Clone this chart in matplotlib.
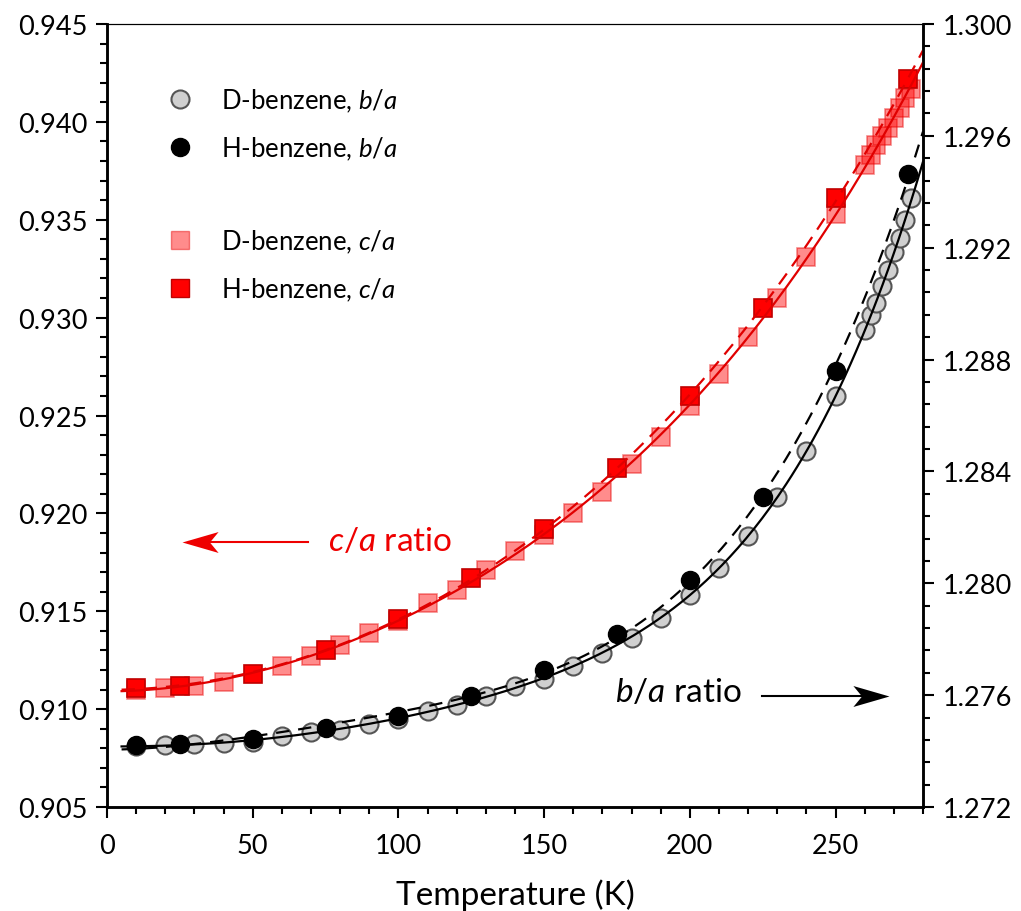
import numpy as np
import matplotlib
matplotlib.use('Agg')
import matplotlib.pyplot as plt
from matplotlib.lines import Line2D
from matplotlib.path import Path
from matplotlib.ticker import MultipleLocator, FormatStrFormatter

plt.rcParams['font.family'] = ['Lato', 'DejaVu Sans']
plt.rcParams['mathtext.fontset'] = 'custom'
plt.rcParams['mathtext.rm'] = 'Lato'
plt.rcParams['mathtext.it'] = 'Lato:italic'

# c/a ratio (left axis)
T_ca_H = [10, 25, 50, 75, 100, 125, 150, 175, 200, 225, 250, 275]
ca_H = [0.9111, 0.9112, 0.9118, 0.9130, 0.9146, 0.9167, 0.9192, 0.9223,
        0.9260, 0.9305, 0.9361, 0.9422]
T_ca_D = [10, 20, 30, 40, 60, 70, 80, 90, 100, 110, 120, 130, 140, 150, 160,
          170, 180, 190, 200, 210, 220, 230, 240, 250, 260, 262, 264, 266,
          268, 270, 272, 274, 276]
ca_D = [0.9110, 0.9111, 0.9112, 0.9114, 0.9122, 0.9127, 0.9133, 0.9139,
        0.9145, 0.9154, 0.9161, 0.9171, 0.9181, 0.9189, 0.9200, 0.9211,
        0.9225, 0.9239, 0.9255, 0.9271, 0.9290, 0.9310, 0.9331, 0.9353,
        0.9378, 0.9383, 0.9388, 0.9393, 0.9397, 0.9402, 0.9407, 0.9412,
        0.9417]

# b/a ratio (right axis)
T_ba_H = [10, 25, 50, 75, 100, 125, 150, 175, 200, 225, 250, 275]
ba_H = [1.27422, 1.27425, 1.27443, 1.27482, 1.27525, 1.27597, 1.27690,
        1.27819, 1.28012, 1.28309, 1.28759, 1.29464]
T_ba_D = [10, 20, 30, 40, 50, 60, 70, 80, 90, 100, 110, 120, 130, 140, 150,
          160, 170, 180, 190, 200, 210, 220, 230, 240, 250, 260, 262, 264,
          266, 268, 270, 272, 274, 276]
ba_D = [1.27418, 1.27422, 1.27425, 1.27429, 1.27432, 1.27454, 1.27468,
        1.27475, 1.27497, 1.27515, 1.27543, 1.27565, 1.27597, 1.27633,
        1.27658, 1.27704, 1.27751, 1.27804, 1.27876, 1.27958, 1.28055,
        1.28169, 1.28309, 1.28473, 1.28670, 1.28906, 1.28959, 1.29002,
        1.29063, 1.29120, 1.29185, 1.29235, 1.29299, 1.29378]

legend_labels = ['D-benzene, $b/a$', 'H-benzene, $b/a$',
                 'D-benzene, $c/a$', 'H-benzene, $c/a$']

fig = plt.figure(figsize=(10.21, 9.12), dpi=100)
ax = fig.add_axes([0.1048, 0.114, 0.7992, 0.8586])
ax2 = ax.twinx()

Tfit = np.linspace(5, 280, 300)


def fit(T, y, powers):
    # least squares fit with no linear term, so the curve is flat at low T
    t = np.asarray(T) / 280.0
    A = np.column_stack([t ** p for p in powers])
    coef, *_ = np.linalg.lstsq(A, np.asarray(y), rcond=None)
    tf = Tfit / 280.0
    return np.column_stack([tf ** p for p in powers]) @ coef


red = '#e00000'
# c/a on left axis
ax.plot(T_ca_D, ca_D, 's', ms=13, mfc=(1, 0, 0, 0.45), mec=(0.9, 0, 0, 0.45),
        mew=1.2, zorder=2)
ax.plot(T_ca_H, ca_H, 's', ms=13, mfc='#ff0000', mec='#c00000', mew=1.2, zorder=3)
ax.plot(Tfit, fit(T_ca_D, ca_D, [0, 2, 3, 4]), '-', color=red, lw=1.6, zorder=4)
ax.plot(Tfit, fit(T_ca_H, ca_H, [0, 2, 3, 4]), '--', color=red, lw=1.6,
        dashes=(6, 4), zorder=4)

# b/a on right axis
ax2.plot(T_ba_D, ba_D, 'o', ms=13, mfc='#d0d0d0', mec='#555555', mew=1.5, zorder=2)
ax2.plot(T_ba_H, ba_H, 'o', ms=13, mfc='black', mec='black', zorder=3)
ax2.plot(Tfit, fit(T_ba_D, ba_D, [0, 2, 3, 4, 5]), '-', color='black', lw=1.6, zorder=4)
ax2.plot(Tfit, fit(T_ba_H, ba_H, [0, 2, 3, 4]), '--', color='black', lw=1.6,
         dashes=(6, 4), zorder=4)

ax.set_xlim(0, 280)
ax.set_ylim(0.905, 0.945)
ax2.set_ylim(1.272, 1.300)

ax.xaxis.set_major_locator(MultipleLocator(50))
ax.xaxis.set_minor_locator(MultipleLocator(10))
ax.yaxis.set_major_locator(MultipleLocator(0.005))
ax.yaxis.set_minor_locator(MultipleLocator(0.001))
ax.yaxis.set_major_formatter(FormatStrFormatter('%.3f'))
ax2.yaxis.set_major_locator(MultipleLocator(0.004))
ax2.yaxis.set_minor_locator(MultipleLocator(0.0008))
ax2.yaxis.set_major_formatter(FormatStrFormatter('%.3f'))

for a in (ax, ax2):
    a.tick_params(which='major', direction='out', length=8, width=1.5,
                  labelsize=19.5, pad=6)
    a.tick_params(which='minor', direction='out', length=5, width=1.5)
    for s in ('left', 'right', 'bottom'):
        a.spines[s].set_linewidth(1.8)
    a.spines['top'].set_linewidth(0.8)
ax.tick_params(axis='x', which='major', pad=11)

ax.set_xlabel('Temperature (K)', fontsize=24)
ax.xaxis.set_label_coords(0.5, -0.1239)
ax.xaxis.label.set_verticalalignment('baseline')

# annotations: text plus a line with a notched (stealth) arrow head
head_right = Path([(0, 0), (-1, 0.29), (-0.76, 0), (-1, -0.29), (0, 0)],
                  [Path.MOVETO, Path.LINETO, Path.LINETO, Path.LINETO, Path.CLOSEPOLY])
head_left = Path([(0, 0), (1, 0.29), (0.76, 0), (1, -0.29), (0, 0)],
                 [Path.MOVETO, Path.LINETO, Path.LINETO, Path.LINETO, Path.CLOSEPOLY])

ca_color = '#ee0000'
ax.text(97, 0.9186, '$c/a$ ratio', color=ca_color, fontsize=24,
        ha='center', va='center')
ax.plot([69, 28], [0.91854, 0.91854], color=ca_color, lw=1.5)
ax.plot([25.9], [0.91854], ls='none', marker=head_left, ms=52, mew=0,
        color=ca_color)

ax.text(196, 0.9109, '$b/a$ ratio', color='black', fontsize=24,
        ha='center', va='center')
ax.plot([224.8, 265], [0.91067, 0.91067], color='black', lw=1.5)
ax.plot([268.3], [0.91067], ls='none', marker=head_right, ms=52, mew=0,
        color='black')

# legend
handles = [
    Line2D([], [], ls='none', marker='o', ms=13, mfc='#d0d0d0', mec='#555555', mew=1.5),
    Line2D([], [], ls='none', marker='o', ms=13, mfc='black', mec='black'),
    Line2D([], [], ls='none'),
    Line2D([], [], ls='none', marker='s', ms=13, mfc=(1, 0, 0, 0.45), mec=(0.9, 0, 0, 0.45)),
    Line2D([], [], ls='none', marker='s', ms=13, mfc='#ff0000', mec='#c00000'),
]
labels = [legend_labels[0], legend_labels[1], '', legend_labels[2], legend_labels[3]]
ax2.legend(handles, labels, loc='upper left', bbox_to_anchor=(0.03, 0.95),
           frameon=False, fontsize=18.5, labelspacing=0.8, handletextpad=0.6)

fig.savefig('out.png', dpi=100)
